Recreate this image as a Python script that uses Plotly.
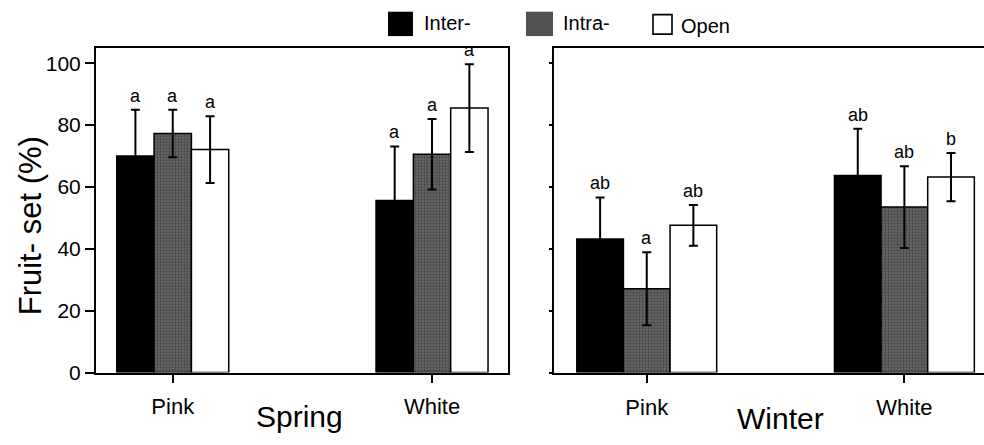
import plotly.graph_objects as go

# ---- data -------------------------------------------------------------
colours = ["Pink", "White"]
series = ["Inter-", "Intra-", "Open"]

spring_mean = {"Inter-": [70.0, 55.6], "Intra-": [77.3, 70.6], "Open": [72.1, 85.5]}
spring_err = {"Inter-": [15.0, 17.5], "Intra-": [7.7, 11.4], "Open": [10.8, 14.2]}
spring_letters = {"Inter-": ["a", "a"], "Intra-": ["a", "a"], "Open": ["a", "a"]}

winter_mean = {"Inter-": [43.2, 63.7], "Intra-": [27.1, 53.5], "Open": [47.6, 63.2]}
winter_err = {"Inter-": [13.4, 15.1], "Intra-": [11.8, 13.2], "Open": [6.6, 7.8]}
winter_letters = {"Inter-": ["ab", "ab"], "Intra-": ["a", "ab"], "Open": ["ab", "b"]}

y_ticks = [0, 20, 40, 60, 80, 100]

# ---- figure geometry (pixels) ------------------------------------------
W, H = 984, 445
FONT = "Liberation Sans, Arial, Helvetica, sans-serif"


def px(x):
    return x / W


def py(y):
    return 1 - y / H


styles = {
    "Inter-": dict(color="black", line=dict(color="black", width=1.5)),
    "Intra-": dict(color="#5a5a5a", line=dict(color="black", width=1.5),
                   pattern=dict(shape=".", fgcolor="#1e1e1e", bgcolor="#6e6e6e",
                                size=3, solidity=0.5)),
    "Open": dict(color="white", line=dict(color="black", width=1.5)),
}

fig = go.Figure()
annotations = []

panels = [
    ("x", "y", spring_mean, spring_err, spring_letters, 0.144),
    ("x2", "y2", winter_mean, winter_err, winter_letters, 0.181),
]

pos = list(range(len(colours)))
for xa, ya, means, errs, letters, bw in panels:
    for j, s in enumerate(series):
        xs = [p + (j - 1) * bw for p in pos]
        fig.add_trace(go.Bar(
            x=xs, y=means[s], width=bw, name=s, showlegend=False,
            marker=styles[s],
            error_y=dict(type="data", array=errs[s], visible=True,
                         color="black", thickness=2, width=4.5),
            xaxis=xa, yaxis=ya,
        ))
        for xv, m, e, t in zip(xs, means[s], errs[s], letters[s]):
            annotations.append(dict(
                x=xv, y=m + e, xref=xa, yref=ya, text=t, showarrow=False,
                yanchor="bottom", yshift=2,
                font=dict(family=FONT, size=18, color="black"),
            ))

# y-axis title
annotations.append(dict(x=px(30), y=py(232), xref="paper", yref="paper",
                        text="Fruit- set (%)", showarrow=False, textangle=-90,
                        xanchor="center", yanchor="middle",
                        font=dict(family=FONT, size=31, color="black")))

# season labels under each panel
annotations.append(dict(x=px(299), y=py(427), xref="paper", yref="paper",
                        text="Spring", showarrow=False, xanchor="center",
                        yanchor="middle", font=dict(family=FONT, size=30, color="black")))
annotations.append(dict(x=px(780), y=py(429), xref="paper", yref="paper",
                        text="Winter", showarrow=False, xanchor="center",
                        yanchor="middle", font=dict(family=FONT, size=30, color="black")))

# legend along the top
shapes = []
legend_items = [
    ("Inter-", (388, 12, 413, 37), "black", 0, 422, 24),
    ("Intra-", (526, 12, 553, 37), "#525252", 0, 561, 24),
    ("Open", (653, 15, 672, 35), "white", 1.6, 679, 27),
]
for label, (x0, y0, x1, y1), fill, lw, tx, ty in legend_items:
    shapes.append(dict(type="rect", xref="paper", yref="paper",
                       x0=px(x0), x1=px(x1), y0=py(y1), y1=py(y0),
                       fillcolor=fill, line=dict(color="black", width=lw)))
    annotations.append(dict(x=px(tx), y=py(ty), xref="paper", yref="paper",
                            text=label, showarrow=False, xanchor="left",
                            yanchor="middle",
                            font=dict(family=FONT, size=20, color="black")))

axis_common = dict(showline=True, linecolor="black", linewidth=2,
                   showgrid=False, zeroline=False, ticks="outside",
                   tickcolor="black")

fig.update_layout(
    width=W, height=H,
    margin=dict(l=0, r=0, t=0, b=0),
    paper_bgcolor="white", plot_bgcolor="white",
    barmode="overlay",
    font=dict(family=FONT, color="black"),
    xaxis=dict(**axis_common, domain=[px(96), px(508)], range=[-0.296, 1.293],
               tickvals=pos, ticktext=colours, ticklen=8, tickwidth=1.5,
               mirror=True, ticklabelstandoff=5,
               tickfont=dict(family=FONT, size=22, color="black")),
    yaxis=dict(**axis_common, domain=[py(382), py(49)], range=[0, 105],
               tickvals=y_ticks, ticklen=9, tickwidth=1.5, mirror=True,
               tickfont=dict(family=FONT, size=21, color="black")),
    xaxis2=dict(**axis_common, domain=[px(554), 1.0], range=[-0.36, 1.309],
                tickvals=pos, ticktext=colours, ticklen=8, tickwidth=1.5,
                mirror=True, ticklabelstandoff=6, anchor="y2",
                tickfont=dict(family=FONT, size=22, color="black")),
    yaxis2=dict(**axis_common, domain=[py(382), py(49)], range=[0, 105],
                tickvals=y_ticks, ticklen=3, tickwidth=1.5, showticklabels=False,
                anchor="x2"),
    annotations=annotations,
    shapes=shapes,
)

fig.write_html("out.html")
